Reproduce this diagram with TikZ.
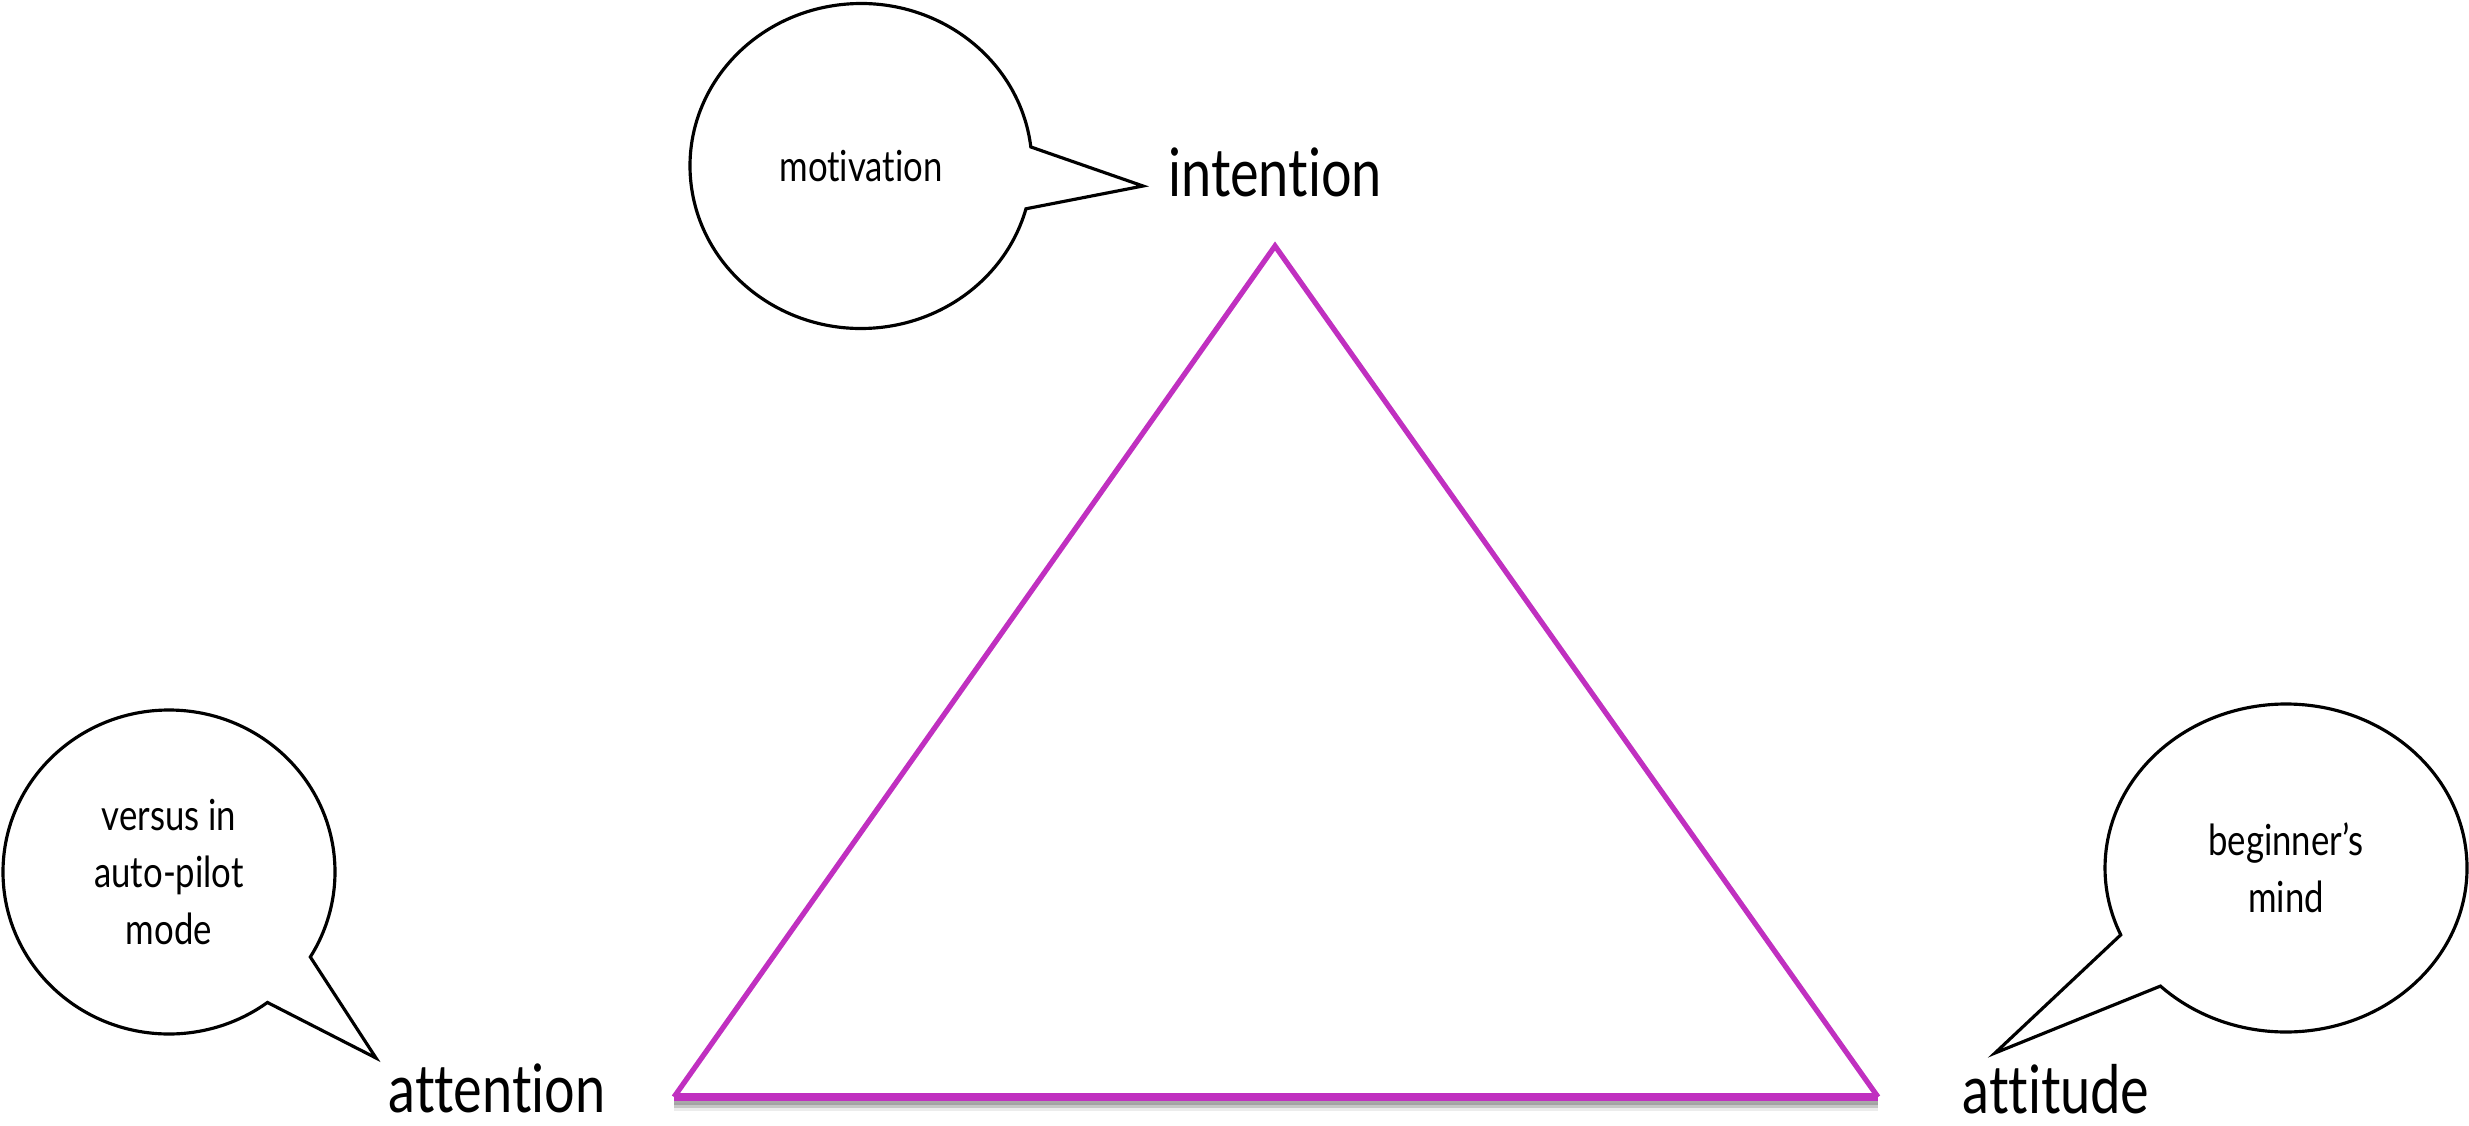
\documentclass[tikz,border=0pt]{standalone}
\usepackage{fontspec}
\setmainfont[FakeStretch=0.81, Ligatures={TeX,NoCommon}]{Lato}
\usetikzlibrary{shapes.callouts}
\definecolor{trimagenta}{RGB}{192,48,192}
\tikzset{
  bubble/.style={ellipse callout, draw, line width=0.9pt, inner sep=0pt, align=center,
    callout pointer arc=22, font=\fontsize{12.2}{16.2}\selectfont},
  corner/.style={anchor=base, inner sep=0pt, font=\fontsize{19}{23}\selectfont},
}
\begin{document}
\begin{tikzpicture}
    \useasboundingbox (0,0) rectangle (24.69,11.25);

    % Triangle
    \coordinate (apex) at (12.75,8.79);
    \coordinate (left) at (6.74,0.28);
    \coordinate (right) at (18.78,0.28);
    \foreach \d/\o in {0.04/0.5,0.07/0.35,0.10/0.15}
        \draw[gray, line width=2.5pt, opacity=\o] ([yshift=-\d cm]left) -- ([yshift=-\d cm]right);
    \draw[trimagenta, line width=1.5pt] (left) -- (apex) -- (right);
    \draw[trimagenta, line width=2pt] (left) -- (right);

    % Labels
    \node[corner] (intention) at (12.75,9.28) {intention};
    \node[corner] (attention) at (4.97,0.13) {attention};
    \node[corner] (attitude) at (20.56,0.12) {attitude};

    % Speech bubbles
    \coordinate (motip) at (11.43,9.39);
    \coordinate (attip) at (3.76,0.67);
    \coordinate (altip) at (19.95,0.72);
    \node[bubble, minimum width=3.42cm, minimum height=3.25cm,
        callout absolute pointer={(motip)}] (motivation) at (8.61,9.59) {motivation};
    \node[bubble, minimum width=3.32cm, minimum height=3.24cm,
        callout absolute pointer={(attip)}] (autopilot) at (1.69,2.53) {versus in\\auto-pilot\\mode};
    \node[bubble, minimum width=3.62cm, minimum height=3.28cm,
        callout absolute pointer={(altip)}] (beginner) at (22.86,2.57) {beginner’s\\mind};
\end{tikzpicture}
\end{document}
